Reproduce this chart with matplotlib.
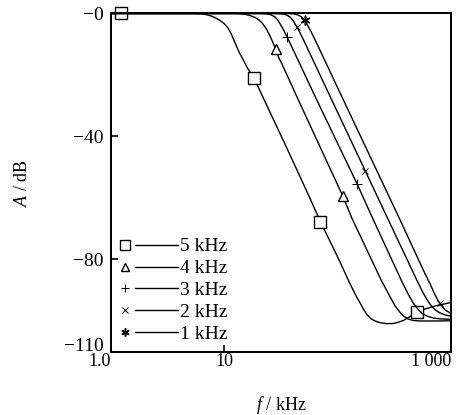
# low-pass response curves, A vs f (log)

import numpy as np
import matplotlib.pyplot as plt
import matplotlib.transforms as mtransforms
from matplotlib.lines import Line2D
from matplotlib.legend_handler import HandlerBase

plt.rcParams['font.family'] = ['Liberation Serif', 'DejaVu Serif']
plt.rcParams['mathtext.fontset'] = 'custom'
plt.rcParams['mathtext.rm'] = 'Liberation Serif'
plt.rcParams['mathtext.it'] = 'Liberation Serif:italic'

####################### data (f in kHz, A in dB)
labels = ["5 kHz", "4 kHz", "3 kHz", "2 kHz", "1 kHz"]
markers = ["s", "^", "+", "x", (6, 2, 0)]  # last one: asterisk

f5 = [1.0, 5.54, 6.38, 7.07, 7.82, 8.48, 9.20, 9.98, 10.82, 11.50, 12.23, 12.99, 13.81, 14.83,
      15.92, 18.35, 20.73, 38.11, 57.2, 70.1, 101.6, 128.9, 145.6, 157.9, 169.6, 180.9, 195.4,
      214.1, 237.0, 271.6, 310.6, 341.7, 380.4, 435.8, 499.3, 591, 724, 1000]
a5 = [0, 0, -0.13, -0.42, -0.91, -1.53, -2.28, -3.25, -4.72, -6.51, -8.79, -11.06, -13.18, -15.29,
      -17.57, -20.99, -25.22, -46.05, -60.20, -67.52, -79.73, -88.02, -91.93, -94.21, -96.32,
      -97.95, -99.25, -100.07, -100.62, -100.94, -100.88, -100.49, -99.90, -98.60, -97.30,
      -96.16, -95.18, -94.05]

f4 = [1.0, 13.26, 15.29, 16.92, 18.73, 20.32, 21.81, 23.42, 24.88, 26.45, 28.40, 30.50, 32.21,
      45.11, 111.1, 133.4, 241.9, 290.4, 321.5, 355.8, 385.9, 418.5, 463.3, 534, 724, 1000]
a4 = [0, 0, -0.26, -0.68, -1.30, -2.12, -3.25, -4.88, -6.67, -8.79, -11.55, -14.64, -16.27,
      -28.15, -59.39, -66.55, -86.72, -92.25, -95.18, -97.30, -98.60, -99.41, -99.90, -100.07,
      -100.07, -100.0]

f3 = [1.0, 19.90, 23.42, 25.92, 28.11, 29.88, 31.75, 33.75, 36.08, 39.71, 65.56, 148.6, 206.9,
      363.1, 418.5, 463.3, 512.8, 556.2, 615.5, 695.5, 817.9, 1000]
a3 = [0, 0, -0.10, -0.42, -1.14, -2.28, -3.91, -5.69, -7.81, -11.06, -28.15, -55.48, -67.20,
      -86.72, -91.28, -94.21, -96.32, -97.62, -98.50, -99.09, -99.41, -99.51]

f2 = [1.0, 26.99, 31.75, 35.15, 38.11, 40.52, 43.05, 45.76, 48.93, 53.83, 88.89, 174.8, 280.5,
      498.3, 567.5, 628.3, 681.3, 739, 801.4, 887.3, 1000]
a2 = [0, 0, -0.10, -0.42, -1.14, -2.28, -3.91, -5.69, -7.81, -11.06, -28.15, -51.12, -67.20,
      -86.72, -90.95, -93.72, -95.51, -96.65, -97.46, -98.11, -98.54]

f1 = [1.0, 34.16, 40.19, 44.48, 48.24, 51.28, 54.51, 57.91, 61.92, 68.14, 112.5, 355.8, 591,
      654.2, 709.8, 761.8, 817.9, 887.3, 1000]
a1 = [0, 0, -0.10, -0.42, -1.14, -2.28, -3.91, -5.69, -7.81, -11.06, -28.15, -67.20, -84.77,
      -88.02, -90.95, -93.23, -95.02, -96.49, -97.62]

# marker positions on the curves
mf5 = [1.23, 18.35, 70.1, 499.3]
ma5 = [0, -21.0, -67.9, -97.1]
mf4 = [28.4, 111.1]
ma4 = [-11.7, -59.4]
mf3 = [36.08, 148.6]
ma3 = [-7.81, -55.5]
mf2 = [43.95, 174.8, 801.4]
ma2 = [-4.49, -51.1, -94.3]
mf1 = [51.28]
ma1 = [-2.28]

curves = [(f5, a5), (f4, a4), (f3, a3), (f2, a2), (f1, a1)]
marks = [(mf5, ma5), (mf4, ma4), (mf3, ma3), (mf2, ma2), (mf1, ma1)]
msize = [8, 7, 7, 5, 7]
mwidth = [1.0, 1.0, 0.7, 0.7, 1.1]
lgsize = [7, 5.5, 6, 4.5, 6]


class MarkThenLine(HandlerBase):  # marker left, line right (like the original legend)
    def create_artists(self, legend, orig, xdescent, ydescent, width, height, fontsize, trans):
        y = height / 2 - ydescent
        x0 = -xdescent
        i = orig._idx
        m = Line2D([x0 + 3.6], [y], marker=markers[i], ms=lgsize[i], mfc='white', mec='k',
                   mew=mwidth[i], ls='none', transform=trans)
        l = Line2D([x0 + 10.8, x0 + width], [y, y], color='k', lw=1.0, transform=trans)
        return [m, l]


####################### plot
fig = plt.figure(figsize=(4.65, 4.15), dpi=100)
ax = fig.add_axes([0.238, 0.153, 0.732, 0.8145])

handles = []
for i in range(5):
    ax.plot(curves[i][0], curves[i][1], color='k', lw=1.0)
    ax.plot(marks[i][0], marks[i][1], ls='none', marker=markers[i], ms=msize[i],
            mfc='white', mec='k', mew=mwidth[i], clip_on=False)
    h = Line2D([], [], color='k')
    h._idx = i
    handles.append(h)

ax.set_xscale('log')
ax.set_xlim(1, 1000)
ax.set_ylim(-110, 0)
ax.minorticks_off()
ax.set_xticks([1, 10, 1000])
ax.set_xticklabels(["1.0", "10", "1 000"])
xl = ax.get_xticklabels()
xl[0].set_ha('right')
xl[2].set_ha('right')
ax.set_yticks([0, -40, -80, -110])
ax.set_yticklabels(["\u22120", "\u221240", "\u221280", "\u2212110"])
ax.tick_params(direction='in', length=5, width=1.2)
ax.tick_params(axis='x', labelsize=13, pad=1)
ax.tick_params(axis='y', labelsize=14, pad=5)
yl = ax.get_yticklabels()
yl[3].set_transform(yl[3].get_transform() +
                    mtransforms.ScaledTranslation(0, 5 / 72, fig.dpi_scale_trans))
for s in ax.spines.values():
    s.set_linewidth(1.4)

ax.set_xlabel(r"$\mathit{f}$ / kHz", fontsize=13, labelpad=17)
ax.set_ylabel(r"$\mathit{A}$ / dB", fontsize=13, labelpad=24)

ax.legend(handles, labels, handler_map={Line2D: MarkThenLine()}, loc='lower left',
          bbox_to_anchor=(0.027, 0.025), borderaxespad=0, borderpad=0, frameon=False,
          fontsize=14, handlelength=3.0, handletextpad=0.1, labelspacing=0.22)

fig.savefig("out.png", dpi=100)
